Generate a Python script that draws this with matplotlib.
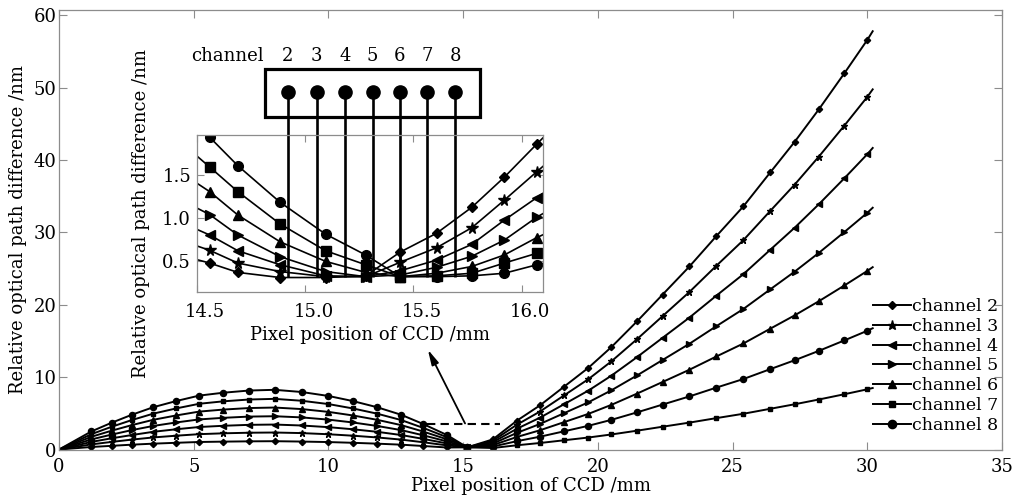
import matplotlib
matplotlib.use("Agg")
import matplotlib.pyplot as plt
import matplotlib.transforms as mtransforms
from matplotlib.patches import Rectangle

plt.rcParams['font.family'] = ['DejaVu Serif']

# ---------------- data (main plot) ----------------
pixel_mm = [0, 1.2, 1.95, 2.7, 3.5, 4.35, 5.2, 6.1, 7.05, 8.0, 9.0, 10.0, 10.9, 11.8,
            12.7, 13.5, 14.4, 15.15,
            16.1, 17.0, 17.85, 18.75, 19.65, 20.5, 21.45, 22.4, 23.4, 24.4, 25.4,
            26.4, 27.3, 28.2, 29.15, 30.0, 30.2]

ch2 = [0, 0.35, 0.51, 0.67, 0.81, 0.93, 1.04, 1.09, 1.13, 1.15, 1.10, 1.03, 0.93, 0.81,
       0.67, 0.49, 0.28, 0.30,
       1.40, 4.00, 6.10, 8.70, 11.30, 14.15, 17.70, 21.40, 25.30, 29.50, 33.60,
       38.30, 42.50, 47.00, 52.00, 56.60, 57.80]
ch3 = [0, 0.71, 1.05, 1.37, 1.67, 1.91, 2.12, 2.24, 2.32, 2.35, 2.27, 2.11, 1.91, 1.67,
       1.37, 1.01, 0.57, 0.30,
       1.21, 3.44, 5.25, 7.49, 9.73, 12.18, 15.24, 18.43, 21.78, 25.40, 28.93,
       32.98, 36.59, 40.47, 44.77, 48.73, 49.77]
ch4 = [0, 1.05, 1.55, 2.00, 2.45, 2.80, 3.11, 3.28, 3.41, 3.45, 3.32, 3.09, 2.80, 2.45,
       2.00, 1.48, 0.84, 0.30,
       1.01, 2.88, 4.40, 6.27, 8.15, 10.20, 12.76, 15.43, 18.24, 21.27, 24.23,
       27.61, 30.64, 33.89, 37.49, 40.81, 41.67]
ch5 = [0, 1.40, 2.06, 2.68, 3.26, 3.74, 4.16, 4.38, 4.55, 4.60, 4.44, 4.13, 3.74, 3.26,
       2.68, 1.98, 1.12, 0.30,
       0.81, 2.31, 3.53, 5.03, 6.53, 8.18, 10.23, 12.37, 14.62, 17.05, 19.42,
       22.14, 24.57, 27.17, 30.06, 32.71, 33.41]
ch6 = [0, 1.76, 2.60, 3.37, 4.11, 4.71, 5.24, 5.52, 5.73, 5.80, 5.59, 5.20, 4.71, 4.11,
       3.37, 2.50, 1.41, 0.30,
       0.61, 1.74, 2.66, 3.79, 4.93, 6.17, 7.72, 9.33, 11.03, 12.86, 14.65,
       16.70, 18.53, 20.49, 22.67, 24.68, 25.20]
ch7 = [0, 2.12, 3.14, 4.07, 4.96, 5.68, 6.32, 6.66, 6.91, 7.00, 6.74, 6.28, 5.68, 4.96,
       4.07, 3.01, 1.70, 0.30,
       0.21, 0.59, 0.90, 1.28, 1.66, 2.08, 2.60, 3.15, 3.72, 4.34, 4.94,
       5.63, 6.25, 6.91, 7.64, 8.32, 8.50]
ch8 = [0, 2.50, 3.70, 4.80, 5.85, 6.70, 7.45, 7.85, 8.15, 8.25, 7.95, 7.40, 6.70, 5.85,
       4.80, 3.55, 2.00, 0.30,
       0.41, 1.16, 1.77, 2.52, 3.28, 4.10, 5.13, 6.21, 7.34, 8.56, 9.74,
       11.11, 12.33, 13.63, 15.08, 16.41, 16.76]

series = [ch2, ch3, ch4, ch5, ch6, ch7, ch8]
labels = ["channel 2", "channel 3", "channel 4", "channel 5",
          "channel 6", "channel 7", "channel 8"]
markers = ["D", "*", "<", ">", "^", "s", "o"]
main_ms = [3.2, 5.0, 4.2, 4.2, 4.2, 3.4, 4.4]

# ---------------- data (inset) ----------------
inset_x = [14.40, 14.56, 14.69, 14.885, 15.095, 15.28, 15.44, 15.607, 15.77, 15.92, 16.07, 16.2]
in2 = [0.58, 0.47, 0.36, 0.30, 0.30, 0.32, 0.60, 0.82, 1.126, 1.48, 1.87, 2.20]
in3 = [0.76, 0.62, 0.47, 0.37, 0.31, 0.31, 0.48, 0.65, 0.886, 1.21, 1.545, 1.83]
in4 = [0.98, 0.80, 0.615, 0.45, 0.32, 0.31, 0.38, 0.505, 0.69, 0.975, 1.24, 1.47]
in5 = [1.25, 1.04, 0.80, 0.545, 0.37, 0.31, 0.33, 0.42, 0.55, 0.74, 1.01, 1.20]
in6 = [1.58, 1.31, 1.035, 0.72, 0.49, 0.36, 0.31, 0.35, 0.43, 0.565, 0.77, 0.92]
in7 = [1.95, 1.60, 1.31, 0.93, 0.615, 0.45, 0.31, 0.32, 0.35, 0.47, 0.585, 0.70]
in8 = [2.35, 1.95, 1.615, 1.185, 0.81, 0.565, 0.31, 0.31, 0.32, 0.35, 0.45, 0.52]
inset_series = [in2, in3, in4, in5, in6, in7, in8]
inset_ms = [5.5, 8.5, 7.0, 7.0, 7.0, 6.5, 7.0]

channel_numbers = ["2", "3", "4", "5", "6", "7", "8"]
channel_pos = [14.92, 15.054, 15.184, 15.312, 15.438, 15.564, 15.693]
channel_floor = 0.31

x_ticks = [0, 5, 10, 15, 20, 25, 30, 35]
y_ticks = [0, 10, 20, 30, 40, 50, 60]
inset_xticks = [14.5, 15.0, 15.5, 16.0]
inset_yticks = [0.5, 1.0, 1.5]

FS = 13
FS_LEG = 12.5
GRAY = "#8c8c8c"

fig = plt.figure(figsize=(10.18, 5.04), dpi=100)
ax = fig.add_axes([0.058, 0.1081, 0.9263, 0.8730])

for ys, lab, mk, ms in zip(series, labels, markers, main_ms):
    ax.plot(pixel_mm, ys, color="k", lw=1.4, marker=mk, ms=ms,
            markevery=slice(1, len(pixel_mm) - 1), label=lab)

ax.set_xlim(0, 35)
ax.set_ylim(0, 60.8)
ax.set_xticks(x_ticks)
ax.set_yticks(y_ticks)
ax.tick_params(direction="in", top=True, right=True, length=6, width=0.8,
               color=GRAY, labelsize=FS)
ax.tick_params(axis="x", pad=6)
ax.tick_params(axis="y", pad=2)
for sp in ax.spines.values():
    sp.set_color(GRAY)
    sp.set_linewidth(0.9)
ax.set_xlabel("Pixel position of CCD /mm", fontsize=FS)
ax.set_ylabel("Relative optical path difference /nm", fontsize=FS)
ax.xaxis.set_label_coords(0.5, -0.063)
ax.yaxis.set_label_coords(-0.034, 0.5)

leg = ax.legend(loc="lower right", bbox_to_anchor=(1.003, 0.02), frameon=False,
                fontsize=FS_LEG, handlelength=2.15, handletextpad=0.05,
                labelspacing=0.16, markerscale=1.35, borderaxespad=0.0)

# dashed marker line and arrow pointing to the inset
ax.plot([13.67, 16.38], [3.55, 3.55], color="k", lw=1.5, ls=(0, (4, 2.5)))
ax.annotate("", xy=(13.69, 13.8), xytext=(15.07, 3.6),
            arrowprops=dict(arrowstyle="-|>,head_width=0.22,head_length=0.9",
                            color="k", lw=1.3, shrinkA=0, shrinkB=0))

# ---------------- inset ----------------
ax_in = fig.add_axes([0.1932, 0.4212, 0.3405, 0.3109])
for ys, mk, ms in zip(inset_series, markers, inset_ms):
    ax_in.plot(inset_x, ys, color="k", lw=1.2, marker=mk, ms=ms)
ax_in.set_xlim(14.5, 16.1)
ax_in.set_ylim(0.133, 1.976)
ax_in.set_xticks(inset_xticks)
ax_in.set_yticks(inset_yticks)
ax_in.set_xticklabels([f"{v:.1f}" for v in inset_xticks])
ax_in.set_yticklabels([f"{v:.1f}" for v in inset_yticks])
ax_in.tick_params(direction="in", top=True, right=True, length=5, width=0.8,
                  color=GRAY, labelsize=FS)
ax_in.tick_params(axis="x", pad=8)
ax_in.tick_params(axis="y", pad=4)
for sp in ax_in.spines.values():
    sp.set_color(GRAY)
    sp.set_linewidth(0.9)
shift = mtransforms.ScaledTranslation(8.5 / 100, 0, fig.dpi_scale_trans)
for lbl in ax_in.get_xticklabels():
    lbl.set_transform(lbl.get_transform() + shift)
ax_in.set_xlabel("Pixel position of CCD /mm", fontsize=FS)
ax_in.set_ylabel("Relative optical path difference /nm", fontsize=FS)
ax_in.xaxis.set_label_coords(0.5, -0.22)
ax_in.yaxis.set_label_coords(-0.136, 0.5)

# channel box with pins
box_y0, box_y1 = 2.19, 2.753
box_x0, box_x1 = 14.815, 15.807
dot_y = 2.486
label_y = 2.905
ax_in.add_patch(Rectangle((box_x0, box_y0), box_x1 - box_x0, box_y1 - box_y0,
                          fill=False, ec="k", lw=2.3, clip_on=False))
for cx, num in zip(channel_pos, channel_numbers):
    ax_in.plot([cx, cx], [dot_y, channel_floor], color="k", lw=1.9,
               clip_on=False, solid_capstyle="butt")
    ax_in.plot([cx], [dot_y], "o", color="k", ms=9.5, clip_on=False)
    ax_in.text(cx, label_y, num, ha="center", va="center", fontsize=FS)
ax_in.text(14.642, label_y, "channel", ha="center", va="center", fontsize=FS)

fig.savefig("out.png", dpi=100)
